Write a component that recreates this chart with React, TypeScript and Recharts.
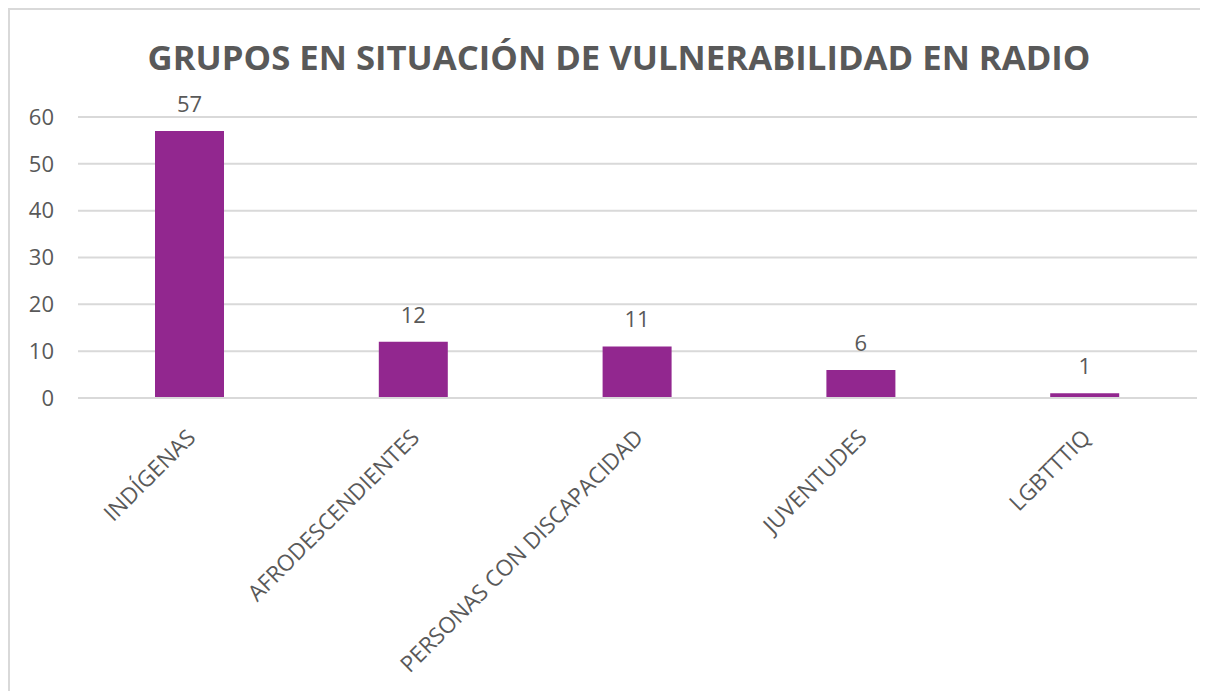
import { BarChart, Bar, XAxis, YAxis, CartesianGrid, LabelList } from "recharts";

const grupos = ["INDÍGENAS", "AFRODESCENDIENTES", "PERSONAS CON DISCAPACIDAD", "JUVENTUDES", "LGBTTTIQ"];
const valores = [57, 12, 11, 6, 1];
const yTicks = [0, 10, 20, 30, 40, 50, 60];

const data = grupos.map((g, i) => ({ grupo: g, valor: valores[i] }));

const FONT = "'Open Sans', sans-serif";
const GRAY = "#595959";

const RotatedTick = (props: any) => {
  const { x, y, payload } = props;
  return (
    <text
      x={x + 7}
      y={y + 33}
      transform={`rotate(-45, ${x + 7}, ${y + 33})`}
      textAnchor="end"
      fill={GRAY}
      fontSize={22.5}
      fontFamily={FONT}
    >
      {payload.value}
    </text>
  );
};

export default function App() {
  return (
    <div
      style={{
        position: "relative",
        width: 1200,
        height: 683,
        borderTop: "2px solid #d9d9d9",
        borderLeft: "2px solid #d9d9d9",
        boxSizing: "border-box",
        background: "#fff",
      }}
    >
      <div
        style={{
          position: "absolute",
          left: 0,
          top: 23,
          width: 1218,
          textAlign: "center",
          fontFamily: FONT,
          fontWeight: 700,
          fontSize: 34.7,
          color: GRAY,
        }}
      >
        GRUPOS EN SITUACIÓN DE VULNERABILIDAD EN RADIO
      </div>
      <BarChart
        width={1198}
        height={681}
        data={data}
        margin={{ top: 107, right: 11, left: 0, bottom: 0 }}
        barSize={69}
      >
        <CartesianGrid vertical={false} stroke="#d9d9d9" strokeWidth={2} />
        <XAxis
          dataKey="grupo"
          axisLine={{ stroke: "#d9d9d9", strokeWidth: 2 }}
          tickLine={false}
          interval={0}
          height={293}
          tick={<RotatedTick />}
        />
        <YAxis
          domain={[0, 60]}
          ticks={yTicks}
          width={68}
          axisLine={false}
          tickLine={false}
          tickMargin={18}
          tick={{ fill: GRAY, fontSize: 22, fontFamily: FONT }}
        />
        <Bar dataKey="valor" fill="#92278f" isAnimationActive={false}>
          <LabelList
            dataKey="valor"
            position="top"
            offset={19}
            fill={GRAY}
            fontSize={22}
            fontFamily={FONT}
          />
        </Bar>
      </BarChart>
    </div>
  );
}
